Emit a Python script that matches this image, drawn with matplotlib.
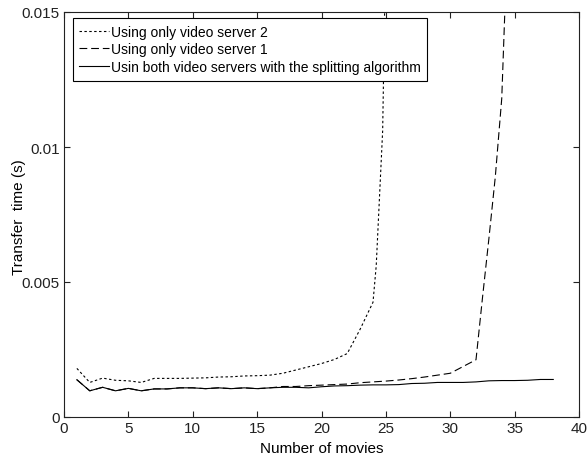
import matplotlib
matplotlib.use("Agg")
import matplotlib.pyplot as plt
from matplotlib.ticker import FixedLocator, FixedFormatter

plt.rcParams['font.family'] = ['Liberation Sans', 'DejaVu Sans']

# Using only video server 2 (dotted)
x_s2 = [1, 2, 3, 4, 5, 6, 7, 8, 9, 10, 11, 12, 13, 14, 15, 16, 17, 18, 19, 20,
        21, 22, 23, 24, 24.25, 24.5, 24.75, 25]
y_s2 = [1.80, 1.28, 1.44, 1.36, 1.34, 1.28, 1.43, 1.43, 1.43, 1.44, 1.45, 1.48,
        1.49, 1.52, 1.53, 1.55, 1.62, 1.74, 1.86, 1.98, 2.13, 2.35, 3.25, 4.25,
        5.6, 8.1, 10.6, 17.9]

# Using only video server 1 (dashed)
x_s1 = [1, 2, 3, 4, 5, 6, 7, 8, 9, 10, 11, 12, 13, 14, 15, 16, 17, 18, 19, 20,
        21, 22, 23, 24, 25, 26, 27, 28, 29, 30, 31, 32, 32.5, 33, 33.5, 34, 34.5]
y_s1 = [1.38, 0.97, 1.10, 0.97, 1.06, 0.97, 1.04, 1.04, 1.08, 1.08, 1.05, 1.08,
        1.05, 1.08, 1.05, 1.08, 1.13, 1.13, 1.16, 1.18, 1.20, 1.22, 1.27, 1.30,
        1.33, 1.37, 1.42, 1.48, 1.55, 1.62, 1.87, 2.12, 4.4, 6.6, 8.9, 11.8, 18.5]

# Using both video servers with the splitting algorithm (solid)
x_both = list(range(1, 39))
y_both = [1.38, 0.97, 1.10, 0.97, 1.06, 0.97, 1.04, 1.04, 1.08, 1.08, 1.05, 1.08,
          1.05, 1.08, 1.05, 1.08, 1.10, 1.10, 1.08, 1.12, 1.15, 1.16, 1.18, 1.19,
          1.19, 1.20, 1.24, 1.25, 1.28, 1.28, 1.28, 1.30, 1.34, 1.35, 1.35, 1.36,
          1.39, 1.39]

labels = ["Using only video server 2", "Using only video server 1",
          "Usin both video servers with the splitting algorithm"]
x_ticks = [0, 5, 10, 15, 20, 25, 30, 35, 40]
y_ticks = [0, 0.005, 0.01, 0.015]
y_tick_labels = ["0", "0.005", "0.01", "0.015"]

fig = plt.figure(figsize=(5.87, 4.64), dpi=100)
ax = fig.add_axes([64/587, 1-418/464, 515/587, 405/464])

scale = 1e-3
ax.plot(x_s2, [v*scale for v in y_s2], color='black', lw=0.8,
        linestyle=(0, (2.2, 2.2)), label=labels[0])
ax.plot(x_s1, [v*scale for v in y_s1], color='black', lw=0.8,
        linestyle=(0, (7, 3.5)), label=labels[1])
ax.plot(x_both, [v*scale for v in y_both], color='black', lw=0.8,
        linestyle='-', label=labels[2])

ax.set_xlim(0, 40)
ax.set_ylim(0, 0.015)
ax.xaxis.set_major_locator(FixedLocator(x_ticks))
ax.yaxis.set_major_locator(FixedLocator(y_ticks))
ax.yaxis.set_major_formatter(FixedFormatter(y_tick_labels))
ax.tick_params(direction='in', top=True, right=True, length=4, width=0.8,
               labelsize=11, colors='#222222', pad=3)
for sp in ax.spines.values():
    sp.set_linewidth(0.8)
    sp.set_color('#222222')

ax.set_xlabel("Number of movies", fontsize=11, labelpad=4)
ax.set_ylabel("Transfer  time (s)", fontsize=11)
ax.yaxis.set_label_coords(-0.074, 0.497)

leg = ax.legend(loc='upper left', bbox_to_anchor=(0.017, 0.985),
                borderaxespad=0, fancybox=False, edgecolor='black',
                framealpha=1, fontsize=10.0, handlelength=2.15,
                handletextpad=0.1, borderpad=0.47, labelspacing=0.27)
leg.get_frame().set_linewidth(0.8)

fig.savefig("out.png", dpi=100, facecolor='white')
